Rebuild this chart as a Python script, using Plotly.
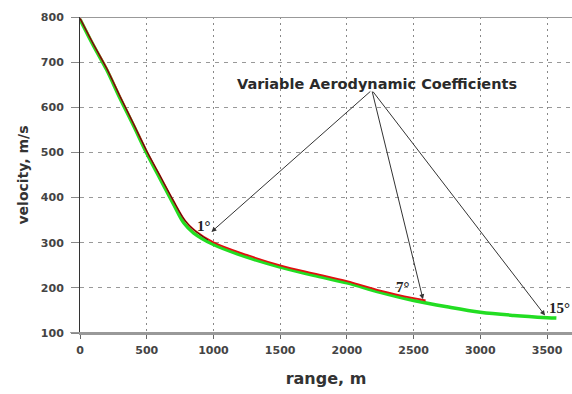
import plotly.graph_objects as go

# 15 deg trajectory (green)
range_15 = [0, 100, 200, 300, 400, 500, 600, 700, 780, 850, 1000, 1250, 1500, 1750, 2000, 2250, 2500, 2750, 3000, 3250, 3500, 3570]
vel_15 = [795, 737, 683, 620, 560, 498, 442, 386, 343, 322, 296, 268, 246, 228, 211, 190, 172, 158, 146, 139, 134, 133]

# 7 deg trajectory (red)
range_7 = [0, 100, 200, 300, 400, 500, 600, 700, 790, 860, 1000, 1250, 1500, 1750, 2000, 2250, 2500, 2590]
vel_7 = [797, 740, 686, 624, 564, 503, 448, 393, 348, 327, 301, 273, 250, 232, 215, 194, 177, 172]

# 1 deg trajectory (dark)
range_1 = [0, 100, 200, 300, 400, 500, 600, 700, 790, 860, 960]
vel_1 = [797, 740, 686, 624, 564, 503, 448, 393, 348, 327, 306]

# annotation anchor and arrow targets
label_text = "Variable Aerodynamic Coefficients"
label_text_pos = (2226, 651)
arrow_origin = (2187, 638)
arrow_tips_x = [985, 2570, 3485]
arrow_tips_y = [324, 175, 139]
angle_labels = ["1°", "7°", "15°"]
angle_label_x = [930, 2421, 3687]
angle_label_y = [337, 201, 155]

x_ticks = [0, 500, 1000, 1500, 2000, 2500, 3000, 3500]
y_ticks = [100, 200, 300, 400, 500, 600, 700, 800]

FONT = "DejaVu Sans, Verdana, sans-serif"

fig = go.Figure()
fig.add_trace(go.Scatter(x=range_15, y=vel_15, mode="lines",
                         line=dict(color="#22dd22", width=3.5, shape="spline"), showlegend=False))
fig.add_trace(go.Scatter(x=range_7, y=vel_7, mode="lines",
                         line=dict(color="#e01010", width=1.8, shape="spline"), showlegend=False))
fig.add_trace(go.Scatter(x=range_1, y=vel_1, mode="lines",
                         line=dict(color="#3a1a10", width=1, shape="spline"), showlegend=False))

annotations = [dict(x=label_text_pos[0], y=label_text_pos[1], xref="x", yref="y", text=label_text,
                    showarrow=False, yanchor="middle",
                    font=dict(family=FONT, size=14.5, color="#2a2a2a", weight="bold"))]
for tx, ty in zip(arrow_tips_x, arrow_tips_y):
    annotations.append(dict(x=tx, y=ty, xref="x", yref="y", ax=arrow_origin[0], ay=arrow_origin[1],
                            axref="x", ayref="y", text="", showarrow=True, arrowhead=2,
                            arrowsize=1, arrowwidth=1, arrowcolor="#333333"))
for i, (t, lx, ly) in enumerate(zip(angle_labels, angle_label_x, angle_label_y)):
    annotations.append(dict(x=lx, y=ly, xref="x", yref="y", text=t, showarrow=False,
                            xanchor="right" if i == 2 else "center",
                            font=dict(family="Liberation Serif, Times New Roman, serif", size=15,
                                      color="#222222", weight="bold")))

fig.update_layout(
    width=572, height=394,
    margin=dict(l=80, r=0, t=17, b=61),
    paper_bgcolor="white", plot_bgcolor="white",
    annotations=annotations,
    xaxis=dict(range=[0, 3687], tickvals=x_ticks, ticktext=[str(v) for v in x_ticks],
               showgrid=True, gridcolor="#888888", griddash="2px,4px", gridwidth=1.2,
               showline=True, linecolor="#999999", linewidth=2,
               ticks="outside", ticklen=4, tickcolor="#666666", ticklabelstandoff=2,
               tickfont=dict(family=FONT, size=11, color="#444444", weight="bold"),
               title=dict(text="range, m", standoff=17,
                          font=dict(family=FONT, size=16, color="#333333", weight="bold")),
               zeroline=False, fixedrange=True, automargin=False),
    yaxis=dict(range=[100, 800], tickvals=y_ticks, ticktext=[str(v) for v in y_ticks],
               showgrid=True, gridcolor="#999999", griddash="4px,5px", gridwidth=1.2,
               showline=True, linecolor="#333333", linewidth=1,
               ticks="outside", ticklen=8, tickcolor="#888888", ticklabelstandoff=5,
               tickfont=dict(family=FONT, size=11, color="#444444", weight="bold"),
               title=dict(text="velocity, m/s", standoff=8,
                          font=dict(family=FONT, size=14, color="#333333", weight="bold")),
               zeroline=False, fixedrange=True, automargin=False),
    shapes=[dict(type="line", xref="paper", yref="y", x0=0, x1=1, y0=800, y1=800,
                 line=dict(color="#999999", width=2)),
            dict(type="line", xref="paper", yref="y", x0=-0.02, x1=1, y0=100, y1=100,
                 line=dict(color="#999999", width=2))],
)

# remove the default page margin so the figure fills the window exactly
fig.write_html("out.html", config={"displayModeBar": False},
               post_script="document.body.style.margin='0';document.body.style.overflow='hidden';")
